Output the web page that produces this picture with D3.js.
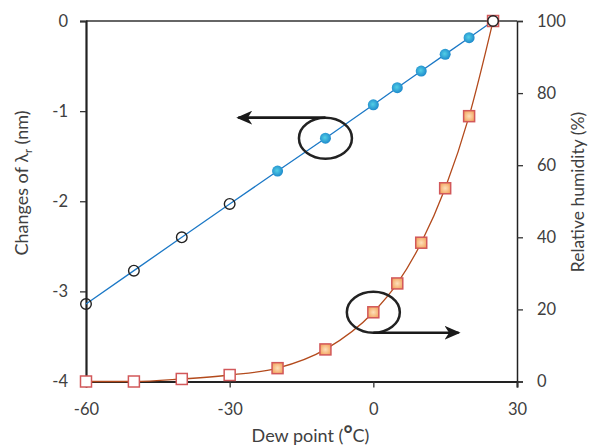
<!DOCTYPE html>
<html>
<head>
<meta charset="utf-8">
<script src="https://cdn.jsdelivr.net/npm/d3@7"></script>
<style>
  body { margin: 0; background: #fff; }
  text { font-family: Lato, "Open Sans", sans-serif; fill: #404040; }
</style>
</head>
<body>
<div id="chart-area"></div>
<script>
// data
const dewPoint = [-60, -50, -40, -30, -20, -10, 0, 5, 10, 15, 20, 25]
const shift = [-3.14, -2.77, -2.40, -2.03, -1.665, -1.30, -0.93, -0.74, -0.555, -0.37, -0.185, 0]
const humidity = [0, 0, 0.7, 1.8, 3.7, 8.9, 19.2, 27.2, 38.5, 53.6, 73.6, 100]
// which points are drawn hollow
const hollow = [true, true, true, true, false, false, false, false, false, false, false, true]

const xTicks = [-60, -30, 0, 30]
const leftTicks = [0, -1, -2, -3, -4]
const rightTicks = [0, 20, 40, 60, 80, 100]

// callouts: circled point and where its arrow points (dew point)
const calloutAt = [-10, 0]
const calloutAxis = ["left", "right"]
const arrowTo = [-28.2, 17.8]

const W = 590, H = 446
const MARGIN = { LEFT: 86, RIGHT: 73, TOP: 21, BOTTOM: 64.5 }
const WIDTH = W - MARGIN.LEFT - MARGIN.RIGHT
const HEIGHT = H - MARGIN.TOP - MARGIN.BOTTOM

const svg = d3.select("#chart-area").append("svg")
  .attr("width", W)
  .attr("height", H)

const defs = svg.append("defs")
const blueGrad = defs.append("radialGradient").attr("id", "blueDot")
  .attr("cx", "45%").attr("cy", "45%").attr("r", "60%")
blueGrad.append("stop").attr("offset", "0%").attr("stop-color", "#52cfe6")
blueGrad.append("stop").attr("offset", "100%").attr("stop-color", "#1a84c9")
const orangeGrad = defs.append("radialGradient").attr("id", "orangeSq")
  .attr("cx", "50%").attr("cy", "50%").attr("r", "65%")
orangeGrad.append("stop").attr("offset", "0%").attr("stop-color", "#fde0ba")
orangeGrad.append("stop").attr("offset", "100%").attr("stop-color", "#f29c52")
// arrow head, sized in user units
defs.append("marker").attr("id", "head")
  .attr("viewBox", "0 0 16 14").attr("refX", 14).attr("refY", 7)
  .attr("markerWidth", 16).attr("markerHeight", 14)
  .attr("markerUnits", "userSpaceOnUse").attr("orient", "auto")
  .append("path").attr("d", "M0,0 L16,7 L0,14 L4.5,7 Z").attr("fill", "#1a1a1a")

const g = svg.append("g")
  .attr("transform", `translate(${MARGIN.LEFT}, ${MARGIN.TOP})`)

// scales
const x = d3.scaleLinear().domain([-60, 30]).range([0, WIDTH])
const yL = d3.scaleLinear().domain([-4, 0]).range([HEIGHT, 0])
const yR = d3.scaleLinear().domain([0, 100]).range([HEIGHT, 0])

// top frame line
g.append("line")
  .attr("x1", 0).attr("x2", WIDTH).attr("y1", 0).attr("y2", 0)
  .attr("stroke", "#333").attr("stroke-width", 1.3)

// axes
const xAxis = g.append("g")
  .attr("transform", `translate(0, ${HEIGHT})`)
  .call(d3.axisBottom(x).tickValues(xTicks).tickFormat(d => String(d)).tickSize(6).tickPadding(16))
const yAxisL = g.append("g")
  .call(d3.axisLeft(yL).tickValues(leftTicks).tickFormat(d => String(d)).tickSize(6).tickPadding(12))
const yAxisR = g.append("g")
  .attr("transform", `translate(${WIDTH}, 0)`)
  .call(d3.axisRight(yR).tickValues(rightTicks).tickFormat(d => String(d)).tickSize(6).tickPadding(14))

;[xAxis, yAxisL, yAxisR].forEach(a => {
  a.selectAll("text").style("font-size", "16.5px").attr("fill", "#404040")
  a.selectAll("line").attr("stroke", "#333").attr("stroke-width", 1.3)
  a.select(".domain").attr("stroke", "#222").attr("stroke-width", 1.5)
})
xAxis.select(".domain").attr("stroke-width", 2)
yAxisL.select(".domain").attr("stroke-width", 2.2)
xAxis.selectAll("text").attr("dy", "0.71em")

// axis titles
g.append("text")
  .attr("x", (WIDTH) / 2 + 9).attr("y", HEIGHT + 60)
  .attr("text-anchor", "middle").style("font-size", "18px")
  .call(t => {
    t.append("tspan").text("Dew point (")
    t.append("tspan").text("°").style("font-weight", "bold").style("font-size", "22px")
    t.append("tspan").text("C)")
  })

g.append("text")
  .attr("transform", `translate(${22 - MARGIN.LEFT}, ${183 - MARGIN.TOP}) rotate(-90)`)
  .attr("text-anchor", "middle").attr("dy", "0.35em").style("font-size", "18px")
  .call(t => {
    t.append("tspan").text("Changes of λ")
    t.append("tspan").text("r").style("font-size", "11px").attr("dy", "4")
    t.append("tspan").text(" (nm)").attr("dy", "-4")
  })

g.append("text")
  .attr("transform", `translate(${578 - MARGIN.LEFT}, ${192 - MARGIN.TOP}) rotate(-90)`)
  .attr("text-anchor", "middle").attr("dy", "0.35em").style("font-size", "17.5px")
  .text("Relative humidity (%)")

// lines
const blueLine = d3.line()
  .x((d, i) => x(dewPoint[i]))
  .y(d => yL(d))
g.append("path")
  .attr("fill", "none").attr("stroke", "#1b78c6").attr("stroke-width", 1.3)
  .attr("d", blueLine(shift))

const orangeLine = d3.line()
  .x((d, i) => x(dewPoint[i]))
  .y(d => yR(d))
  .curve(d3.curveMonotoneX)
g.append("path")
  .attr("fill", "none").attr("stroke", "#b34a1c").attr("stroke-width", 1.3)
  .attr("d", orangeLine(humidity))

// square markers (right axis)
const sq = 11
g.selectAll(".sq").data(humidity).enter().append("rect")
  .attr("class", "sq")
  .attr("x", (d, i) => x(dewPoint[i]) - sq / 2)
  .attr("y", d => yR(d) - sq / 2)
  .attr("width", sq).attr("height", sq)
  .attr("fill", (d, i) => hollow[i] ? "#fff" : "url(#orangeSq)")
  .attr("stroke", "#d2585a").attr("stroke-width", 1.5)

// circle markers (left axis)
g.selectAll(".dot").data(shift).enter().append("circle")
  .attr("class", "dot")
  .attr("cx", (d, i) => x(dewPoint[i]))
  .attr("cy", d => yL(d))
  .attr("r", (d, i) => hollow[i] ? 5.3 : 5.5)
  .attr("fill", (d, i) => hollow[i] ? "none" : "url(#blueDot)")
  .attr("stroke", (d, i) => hollow[i] ? "#222" : "none")
  .attr("stroke-width", 1.4)

// callouts
calloutAt.forEach((v, k) => {
  const i = dewPoint.indexOf(v)
  const cx = x(v)
  const cy = calloutAxis[k] === "left" ? yL(shift[i]) : yR(humidity[i])
  const rx = 26.5, ry = 20.5
  g.append("ellipse")
    .attr("cx", cx).attr("cy", cy).attr("rx", rx).attr("ry", ry)
    .attr("fill", "none").attr("stroke", "#222").attr("stroke-width", 2.5)
  const ay = calloutAxis[k] === "left" ? cy - ry : cy + ry
  g.append("line")
    .attr("x1", cx).attr("y1", ay)
    .attr("x2", x(arrowTo[k])).attr("y2", ay)
    .attr("stroke", "#1a1a1a").attr("stroke-width", 2.6)
    .attr("marker-end", "url(#head)")
})
</script>
</body>
</html>
